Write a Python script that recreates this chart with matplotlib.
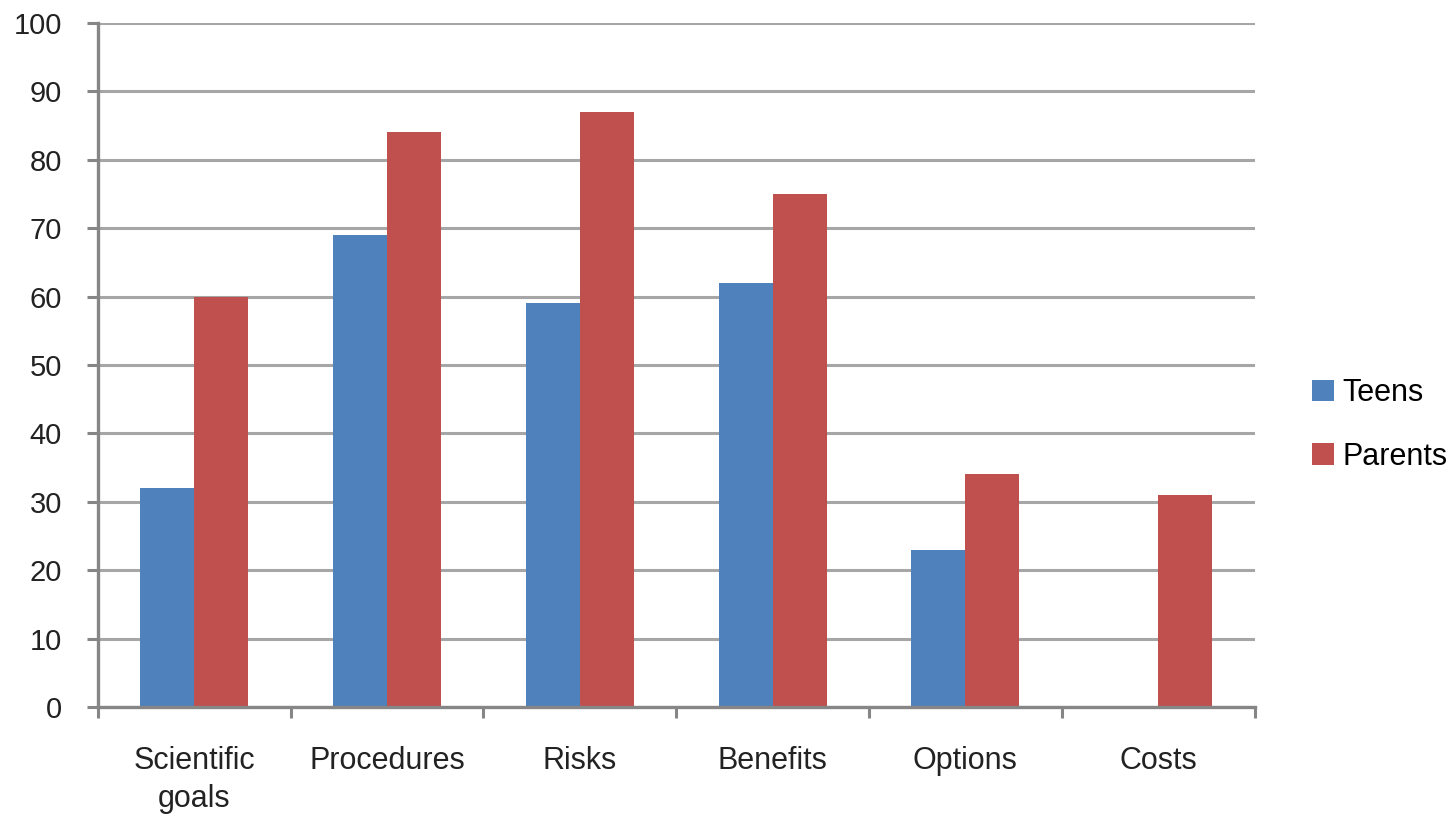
import numpy as np
import matplotlib.pyplot as plt

plt.rcParams['font.family'] = ['Liberation Sans', 'DejaVu Sans']

categorias = ['Scientific\ngoals', 'Procedures', 'Risks', 'Benefits', 'Options', 'Costs']
teens   = [32, 69, 59, 62, 23, 0]
parents = [60, 84, 87, 75, 34, 31]
yticks  = [0, 10, 20, 30, 40, 50, 60, 70, 80, 90, 100]

fig = plt.figure(figsize=(14.47, 8.19), dpi=100)
ax = fig.add_axes([0.0677, 0.1368, 0.867 - 0.0677, 0.9719 - 0.1368])

x = np.arange(len(categorias))
w = 0.28
ax.bar(x - w/2, teens, w, color='#4F81BD', label='Teens', zorder=3)
ax.bar(x + w/2, parents, w, color='#C0504D', label='Parents', zorder=3)

ax.set_xlim(-0.5, len(categorias) - 0.5)
ax.set_ylim(0, 100)
ax.set_yticks(yticks)
ax.yaxis.grid(True, color='#A6A6A6', linewidth=2.2, zorder=0)

ax.set_xticks(x)
ax.set_xticklabels(categorias, fontsize=22, color='#222222', linespacing=1.35)
ax.set_xticks(np.arange(-0.5, len(categorias)), minor=True)
ax.tick_params(axis='x', which='major', length=0, pad=28)
ax.tick_params(axis='x', which='minor', length=8, width=2.2, color='#868686', direction='out')
ax.tick_params(axis='y', length=8, width=2.2, color='#868686', pad=18, labelsize=21, labelcolor='#222222')

for s in ['top', 'right']:
    ax.spines[s].set_visible(False)
for s in ['left', 'bottom']:
    ax.spines[s].set_color('#868686')
    ax.spines[s].set_linewidth(2.4)
    ax.spines[s].set_zorder(4)

fig.legend(loc='center left', bbox_to_anchor=(0.898, 0.481), frameon=False,
           fontsize=22, handlelength=0.72, handleheight=0.72, handletextpad=0.3,
           labelspacing=1.1, borderaxespad=0)

fig.savefig('out.png', dpi=100)
